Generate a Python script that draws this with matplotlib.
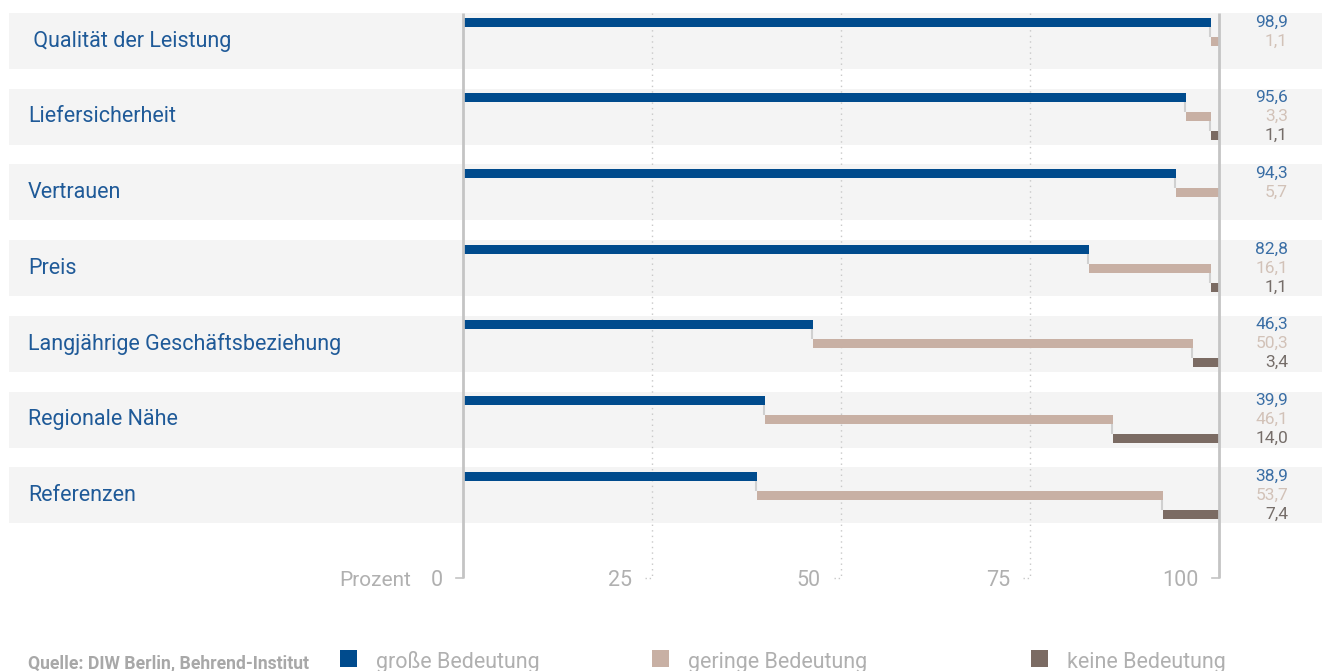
import matplotlib.pyplot as plt
from matplotlib.patches import Rectangle

# Daten
kategorien = [' Qualität der Leistung', 'Liefersicherheit', 'Vertrauen', 'Preis',
              'Langjährige Geschäftsbeziehung', 'Regionale Nähe', 'Referenzen']
gross = [98.9, 95.6, 94.3, 82.8, 46.3, 39.9, 38.9]
gering = [1.1, 3.3, 5.7, 16.1, 50.3, 46.1, 53.7]
keine = [None, 1.1, None, 1.1, 3.4, 14.0, 7.4]
ticks = [0, 25, 50, 75, 100]
legende = ['große Bedeutung', 'geringe Bedeutung', 'keine Bedeutung']
quelle = 'Quelle: DIW Berlin, Behrend-Institut'

c_blau = '#004b8d'
c_beige = '#c8b0a4'
c_dunkel = '#7b6b63'
c_band = '#f4f4f4'
c_text = '#1f5a98'
c_grau = '#b0b0b0'
lab_col = ['#3a6ea5', '#d2c2b8', '#756d69']

schrift = ['Roboto', 'DejaVu Sans']

W, H = 1322, 671
px_x0, px_x100 = 463, 1219
sx = (px_x100 - px_x0) / 100.0
py0, sy = 41, 75.7

fig = plt.figure(figsize=(W / 100, H / 100), dpi=100)
ax = fig.add_axes([0, 0, 1, 1])
ax.set_xlim(-px_x0 / sx, (W - px_x0) / sx)
ax.set_ylim((H - py0) / sy, -py0 / sy)
ax.axis('off')

band_h = 56 / sy
off = 19 / sy
bar_h = 9 / sy
y_top = -band_h / 2
y_axis = (578 - py0) / sy

# Hintergrundbaender
for i in range(len(kategorien)):
    ax.axhspan(i - band_h / 2, i + band_h / 2, xmin=9 / W, xmax=1, color=c_band, lw=0, zorder=0)

# Gitterlinien
for t in ticks:
    tl = 7 / sx
    if t in (0, 100):
        ax.plot([t, t], [y_top, y_axis], color='#c4c4c4', lw=2, zorder=4, solid_capstyle='butt')
        ax.plot([t - tl, t], [y_axis, y_axis], color='#c4c4c4', lw=1.2, zorder=4)
    else:
        ax.plot([t, t], [y_top, y_axis], color='#c8c8c8', lw=1, ls=(0, (1, 3)), zorder=1)
        ax.plot([t - tl, t], [y_axis, y_axis], color='#c8c8c8', lw=1, ls=(0, (1, 2)), zorder=1)
    ax.text(t - 20 / sx, y_axis + 2 / sy, str(t), ha='right', va='center',
            fontsize=15.5, color=c_grau, family=schrift)
ax.text(-52 / sx, y_axis + 2 / sy, 'Prozent', ha='right', va='center',
        fontsize=15, color=c_grau, family=schrift)

# Balken
for i, kat in enumerate(kategorien):
    g1, g2, g3 = gross[i], gering[i], keine[i]
    ax.barh(i - off, g1, left=0, height=bar_h, color=c_blau, lw=0, zorder=3)
    ax.barh(i, g2, left=g1, height=bar_h, color=c_beige, lw=0, zorder=3)
    ax.vlines(g1 - 0.15, i - off + bar_h / 2, i - bar_h / 2, color='#d0d0d0', lw=1.5, zorder=2)
    if g3 is not None:
        ax.barh(i + off, g3, left=g1 + g2, height=bar_h, color=c_dunkel, lw=0, zorder=3)
        ax.vlines(g1 + g2 - 0.15, i + bar_h / 2, i + off - bar_h / 2, color='#d0d0d0', lw=1.5, zorder=2)

    ax.text(-435 / sx, i, kat, ha='left', va='center', fontsize=15.5, color=c_text,
            family=schrift)
    werte = [g1, g2, g3]
    for k, v in enumerate(werte):
        if v is None:
            continue
        ax.text((1288 - px_x0) / sx, i - off + k * off, f'{v:.1f}'.replace('.', ','),
                ha='right', va='center', fontsize=12.5, color=lab_col[k], family=schrift)

# Legende und Quelle
fig.text(28 / W, 3 / H, quelle, ha='left', va='baseline', fontsize=12.7,
         fontweight='bold', color='#a8a8a8', family=schrift)
leg_x = [340, 652, 1031]
for name, lx, col in zip(legende, leg_x, [c_blau, c_beige, c_dunkel]):
    fig.patches.append(Rectangle((lx / W, 4 / H), 17 / W, 17 / H, transform=fig.transFigure,
                                 facecolor=col, lw=0))
    fig.text((lx + 36) / W, 3 / H, name, ha='left', va='baseline', fontsize=15.5,
             color=c_grau, family=schrift)

fig.savefig('out.png', dpi=100)
